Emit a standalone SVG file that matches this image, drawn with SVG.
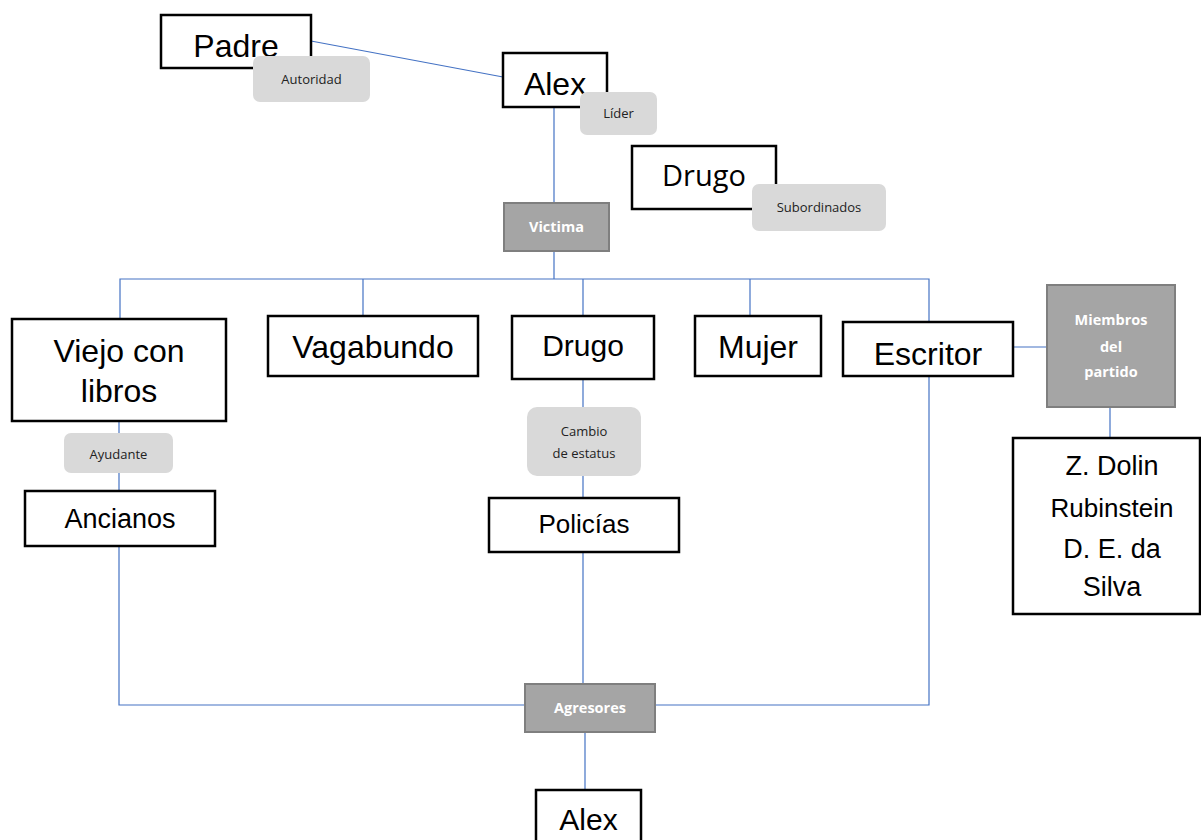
<svg xmlns="http://www.w3.org/2000/svg" width="1201" height="840" viewBox="0 0 1201 840">
<style>
.box{fill:#fff;stroke:#000;stroke-width:2.5}
.dark{fill:#a5a5a5;stroke:#7f7f7f;stroke-width:2}
.pill{fill:#d9d9d9;stroke:none}
.t{font-family:"Liberation Sans",Arial,sans-serif;font-size:32px;fill:#000;text-anchor:middle}
.tc{font-family:"Open Sans","Noto Sans",sans-serif;font-size:29px;fill:#000;text-anchor:middle}
.pl{font-family:"Open Sans","Noto Sans",sans-serif;font-size:13px;fill:#222;text-anchor:middle}
.dl{font-family:"Open Sans","Noto Sans",sans-serif;font-size:14.5px;font-weight:bold;fill:#fff;text-anchor:middle}
.c{fill:none;stroke:#4472c4;stroke-width:1.2}
</style>
<rect width="1201" height="840" fill="#fff"/>
<g id="connectors" class="c">
<line x1="311" y1="41" x2="503" y2="77"/>
<line x1="554" y1="107" x2="554" y2="203"/>
<line x1="554" y1="251" x2="554" y2="279"/>
<polyline points="120,320 120,279 929,279 929,322"/>
<line x1="363" y1="279" x2="363" y2="316"/>
<line x1="583" y1="279" x2="583" y2="316"/>
<line x1="750" y1="279" x2="750" y2="316"/>
<line x1="119" y1="421" x2="119" y2="491"/>
<polyline points="119,546 119,705 525,705"/>
<line x1="583" y1="379" x2="583" y2="498"/>
<line x1="583" y1="552" x2="583" y2="684"/>
<polyline points="929,376 929,705 655,705"/>
<line x1="1013" y1="347" x2="1047" y2="347"/>
<line x1="1110" y1="407" x2="1110" y2="438"/>
<line x1="585" y1="732" x2="585" y2="790"/>
</g>
<g id="padre"><rect class="box" x="161" y="15" width="150" height="53"/><text class="t" x="236" y="57">Padre</text></g>
<g id="autoridad"><rect class="pill" x="253" y="56" width="117" height="46" rx="7"/><text class="pl" x="311.5" y="84">Autoridad</text></g>
<g id="alex-top"><rect class="box" x="503" y="53" width="104" height="54"/><text class="t" x="555" y="95">Alex</text></g>
<g id="lider"><rect class="pill" x="580" y="92" width="77" height="43" rx="7"/><text class="pl" x="618.5" y="118">Líder</text></g>
<g id="drugo-top"><rect class="box" x="632" y="146" width="144" height="63"/><text class="tc" x="704" y="186">Drugo</text></g>
<g id="subordinados"><rect class="pill" x="752" y="184" width="134" height="47" rx="7"/><text class="pl" x="819" y="212">Subordinados</text></g>
<g id="victima"><rect class="dark" x="504" y="203" width="105" height="48"/><text class="dl" x="556.5" y="232">Victima</text></g>
<g id="viejo"><rect class="box" x="12" y="319" width="214" height="102"/><text class="t" x="119" y="362">Viejo con</text><text class="t" x="119" y="402">libros</text></g>
<g id="vagabundo"><rect class="box" x="268" y="316" width="210" height="60"/><text class="t" x="373" y="358">Vagabundo</text></g>
<g id="drugo-mid"><rect class="box" x="512" y="316" width="142" height="63"/><text class="t" x="583" y="356" style="font-size:30px">Drugo</text></g>
<g id="mujer"><rect class="box" x="695" y="316" width="126" height="60"/><text class="t" x="758" y="358">Mujer</text></g>
<g id="escritor"><rect class="box" x="843" y="322" width="170" height="54"/><text class="t" x="928" y="365">Escritor</text></g>
<g id="miembros"><rect class="dark" x="1047" y="285" width="128" height="122"/><text class="dl" x="1111" y="325">Miembros</text><text class="dl" x="1111" y="352">del</text><text class="dl" x="1111" y="377">partido</text></g>
<g id="ayudante"><rect class="pill" x="64" y="433" width="109" height="40" rx="7"/><text class="pl" x="118.5" y="459">Ayudante</text></g>
<g id="cambio"><rect class="pill" x="527" y="407" width="114" height="69" rx="10"/><text class="pl" x="584" y="436">Cambio</text><text class="pl" x="584" y="458">de estatus</text></g>
<g id="ancianos"><rect class="box" x="25" y="491" width="190" height="55"/><text class="t" x="120" y="528" style="font-size:27px">Ancianos</text></g>
<g id="policias"><rect class="box" x="489" y="498" width="190" height="54"/><text class="t" x="584" y="533" style="font-size:26px">Policías</text></g>
<g id="miembros-list"><rect class="box" x="1013" y="438" width="187" height="176"/><text class="t" x="1112" y="475" style="font-size:27px">Z. Dolin</text><text class="t" x="1112" y="517" style="font-size:26px">Rubinstein</text><text class="t" x="1112" y="558" style="font-size:27px">D. E. da</text><text class="t" x="1112" y="596" style="font-size:27px">Silva</text></g>
<g id="agresores"><rect class="dark" x="525" y="684" width="130" height="48"/><text class="dl" x="590" y="713">Agresores</text></g>
<g id="alex-bottom"><rect class="box" x="536" y="790" width="105" height="55"/><text class="t" x="588.5" y="830" style="font-size:30px">Alex</text></g>
</svg>
